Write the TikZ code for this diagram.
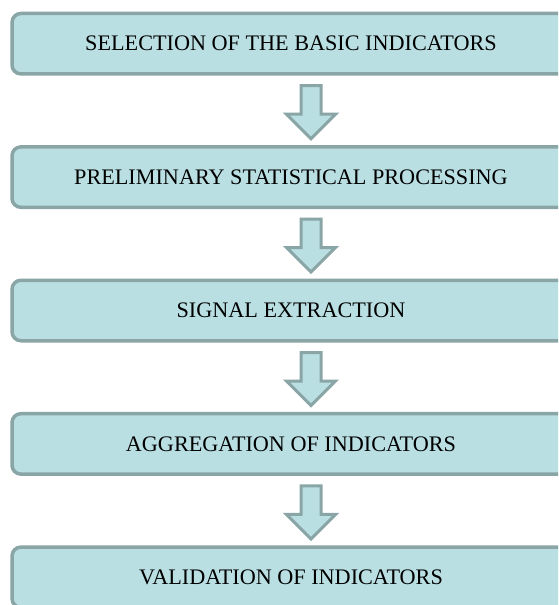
\documentclass[tikz,border=0pt]{standalone}
\usepackage{fontspec}
\setmainfont{Liberation Serif}
\usetikzlibrary{positioning,shapes.arrows,calc}
\definecolor{boxfill}{HTML}{B9DFE3}
\definecolor{boxline}{HTML}{8AA5A6}

\begin{document}
\begin{tikzpicture}[
  x=1pt, y=1pt,
  node distance=69.4pt,
  stage/.style={draw=boxline, fill=boxfill, line width=3.5pt, rounded corners=9pt, minimum width=558pt, minimum height=60.5pt, inner sep=0pt, font=\fontsize{22.2}{24}\selectfont},
  blk/.style={single arrow, draw=boxline, fill=boxfill, line width=3pt, rotate=-90, anchor=tail, minimum height=53pt, minimum width=47pt, single arrow head extend=14.5pt, inner xsep=0pt, inner ysep=8.5pt}
]
\useasboundingbox (0,0) rectangle (558,-605);
\clip (0,0) rectangle (558,-605);

\node[stage] (sel) at (291,-43.7) {SELECTION OF THE BASIC INDICATORS};
\node[stage, below=of sel] (prep) {PRELIMINARY STATISTICAL PROCESSING};
\node[stage, below=of prep] (sig) {SIGNAL EXTRACTION};
\node[stage, below=of sig] (agg) {AGGREGATION OF INDICATORS};
\node[stage, below=of agg] (val) {VALIDATION OF INDICATORS};

% block arrows between the stages
\node[blk] (a1) at ($(sel.south)+(20,-8.5)$) {};
\node[blk] (a2) at ($(prep.south)+(20,-8.5)$) {};
\node[blk] (a3) at ($(sig.south)+(20,-8.5)$) {};
\node[blk] (a4) at ($(agg.south)+(20,-8.5)$) {};
\end{tikzpicture}
\end{document}
